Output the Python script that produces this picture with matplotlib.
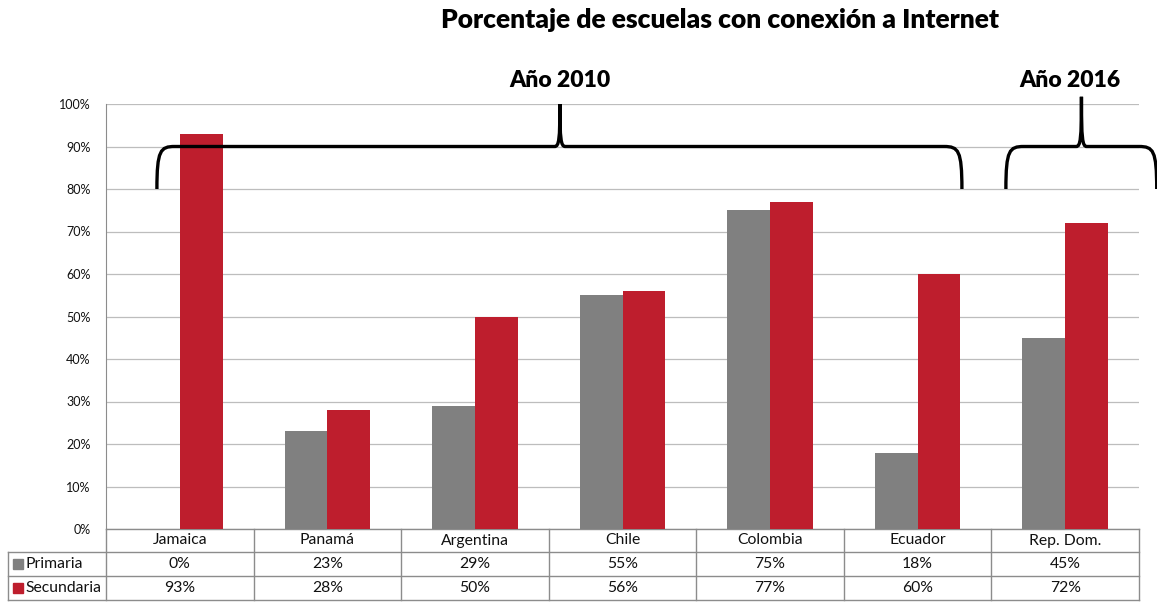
import matplotlib.pyplot as plt
from matplotlib.patches import Rectangle
from matplotlib.path import Path
from matplotlib.patches import PathPatch
import numpy as np

plt.rcParams['font.family'] = ['Lato', 'DejaVu Sans']

paises = ["Jamaica", "Panamá", "Argentina", "Chile", "Colombia", "Ecuador", "Rep. Dom."]
primaria = [0, 23, 29, 55, 75, 18, 45]
secundaria = [93, 28, 50, 56, 77, 60, 72]
series = ["Primaria", "Secundaria"]
colores = ["#808080", "#BE1E2D"]

W, H = 1157, 604
fig = plt.figure(figsize=(W / 100, H / 100), dpi=100)
ax = fig.add_axes([106 / W, 1 - 529 / H, (1139 - 106) / W, (529 - 104) / H])

x = np.arange(len(paises))
bw = 0.29
ax.bar(x - bw / 2, primaria, bw, color=colores[0], zorder=3)
ax.bar(x + bw / 2, secundaria, bw, color=colores[1], zorder=3)

ax.set_xlim(-0.5, len(paises) - 0.5)
ax.set_ylim(0, 100)
ax.set_yticks(range(0, 101, 10))
ax.set_yticklabels([f"{v}%" for v in range(0, 101, 10)], fontsize=9, color="#111111")
ax.set_xticks([])
ax.tick_params(axis="y", length=0, pad=11)
ax.yaxis.grid(True, color="#bdbdbd", linewidth=0.9, zorder=0)
for s in ["top", "right", "bottom"]:
    ax.spines[s].set_visible(False)
ax.spines["left"].set_color("#8c8c8c")

# table below the plot
lc = "#8c8c8c"
r0, r1, r2 = -23 / 425, -47 / 425, -71 / 425
xl = (8 - 106) / 1033
tr = ax.get_xaxis_transform()
kw = dict(color=lc, linewidth=1, clip_on=False)
fs = 11.3
ax.plot([-0.5, len(paises) - 0.5], [0, 0], transform=tr, **kw)
for yy in (r0, r1, r2):
    ax.plot([xl, 1], [yy, yy], transform=ax.transAxes, **kw)
ax.plot([xl, xl], [r0, r2], transform=ax.transAxes, **kw)
ax.plot([0, 0], [0, r2], transform=ax.transAxes, **kw)
for k in range(len(paises)):
    ax.plot([k + 0.5, k + 0.5], [0, r2], transform=tr, **kw)
    ax.text(k, r0 / 2, paises[k], transform=tr, ha="center", va="center", fontsize=fs, color="#111111")
    ax.text(k, (r0 + r1) / 2, f"{primaria[k]}%", transform=tr, ha="center", va="center", fontsize=fs, color="#111111")
    ax.text(k, (r1 + r2) / 2, f"{secundaria[k]}%", transform=tr, ha="center", va="center", fontsize=fs, color="#111111")
for i, (nombre, yc) in enumerate(zip(series, [(r0 + r1) / 2, (r1 + r2) / 2])):
    ax.add_patch(Rectangle((-0.090, yc - 0.012), 0.0097, 0.024, transform=ax.transAxes,
                           color=colores[i], clip_on=False))
    ax.text(-0.078, yc, nombre, transform=ax.transAxes, ha="left", va="center", fontsize=fs, color="#111111")


def llave(x0, x1, xm, ybase, ylevel, ytip, r=0.12, rv=3.0):
    verts = [
        (x0, ybase), (x0, ylevel - rv * 0.3), (x0 + r * 0.2, ylevel), (x0 + r, ylevel),
        (xm - r * 0.3, ylevel),
        (xm - r * 0.05, ylevel), (xm, ylevel + rv * 0.6), (xm, ytip),
        (xm, ylevel + rv * 0.6), (xm + r * 0.05, ylevel), (xm + r * 0.3, ylevel),
        (x1 - r, ylevel),
        (x1 - r * 0.2, ylevel), (x1, ylevel - rv * 0.3), (x1, ybase),
    ]
    codes = [Path.MOVETO, Path.CURVE4, Path.CURVE4, Path.CURVE4,
             Path.LINETO,
             Path.CURVE4, Path.CURVE4, Path.CURVE4,
             Path.CURVE4, Path.CURVE4, Path.CURVE4,
             Path.LINETO,
             Path.CURVE4, Path.CURVE4, Path.CURVE4]
    ax.add_patch(PathPatch(Path(verts, codes), fill=False, linewidth=2.4,
                           edgecolor="black", clip_on=False, zorder=5))


llave(-0.155, 5.30, 2.576, 80, 90, 100)
llave(5.598, 6.62, 6.11, 80, 90, 101.7)

ax.text(2.576, 105.6, "Año 2010", ha="center", va="center", fontsize=16.5, fontweight="heavy")
ax.text(6.03, 105.6, "Año 2016", ha="center", va="center", fontsize=16.5, fontweight="heavy")
fig.text(720 / W, 1 - 20 / H, "Porcentaje de escuelas con conexión a Internet",
         ha="center", va="center", fontsize=19, fontweight="heavy")

fig.savefig("out.png", dpi=100)
